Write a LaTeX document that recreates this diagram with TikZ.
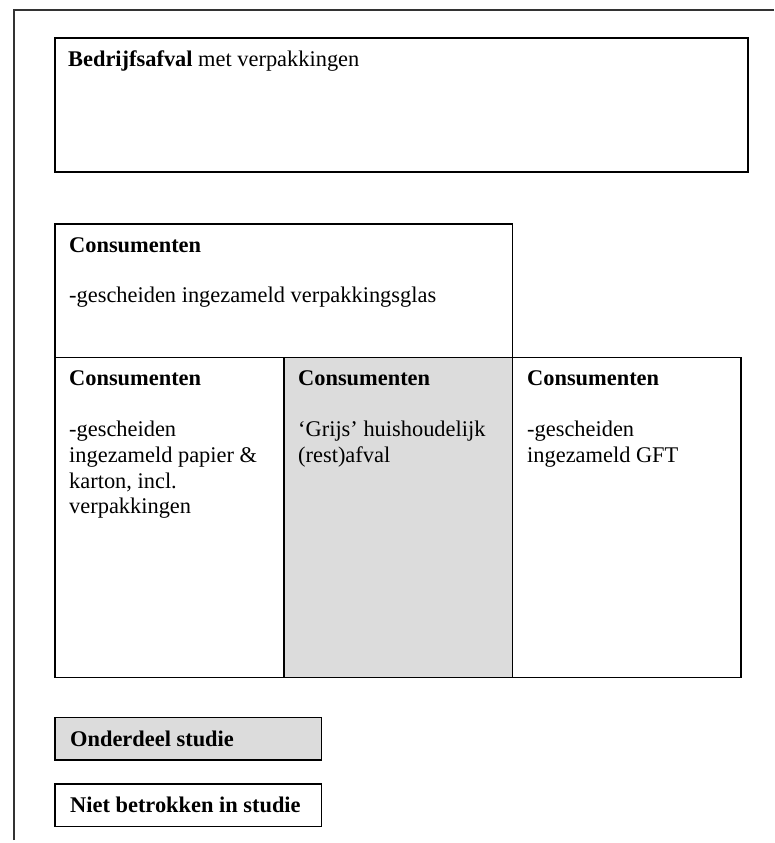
\documentclass[tikz,border=0pt]{standalone}
\usepackage{fontspec}
\setmainfont{Liberation Serif}
\definecolor{studygray}{HTML}{DCDCDC}
\newcommand\textlines[1]{\begin{tabular}[t]{@{}l@{}}#1\end{tabular}}
\begin{document}
\begin{tikzpicture}[x=1pt,y=-1pt,
  panel/.style={rectangle, draw=black, line width=1.6pt, inner sep=0pt, anchor=north west},
  shaded/.style={panel, fill=studygray},
  txt/.style={anchor=base west, inner sep=0pt, align=left,
    font=\fontsize{22.4}{25.7}\selectfont},
  frame/.style={draw=black!80, line width=1.3pt}]
\useasboundingbox (0,0) rectangle (774,843);

% page frame (top and left rules)
\draw[frame] (14,840) -- (14,10) -- (774,10);

% business waste
\node[panel, minimum width=693, minimum height=134] (bedrijf) at (54,37) {};
\node[txt] (bedrijf-t) at (68,66.7) {\textbf{Bedrijfsafval} met verpakkingen};

% separately collected glass
\node[panel, minimum width=457.7, minimum height=133.7] (glas) at (54,223) {};
\node[txt] (glas-h) at (69,252.7) {\textbf{Consumenten}};
\node[txt] (glas-t) at (69,302.7) {-gescheiden ingezameld verpakkingsglas};

% consumer streams
\node[panel, minimum width=229, minimum height=320] (papier) at (54,356.7) {};
\node[shaded, minimum width=228.7, minimum height=320] (rest) at (283,356.7) {};
\node[panel, minimum width=228.3, minimum height=320] (gft) at (511.7,356.7) {};

\node[txt] (papier-h) at (69,385.7) {\textbf{Consumenten}};
\node[txt] (papier-t) at (69,436.7) {\textlines{-gescheiden\\ingezameld papier \&\\karton, incl.\\verpakkingen}};
\node[txt] (rest-h) at (298,385.7) {\textbf{Consumenten}};
\node[txt] (rest-t) at (298,436.7) {\textlines{‘Grijs’ huishoudelijk\\(rest)afval}};
\node[txt] (gft-h) at (527,385.7) {\textbf{Consumenten}};
\node[txt] (gft-t) at (527,436.7) {\textlines{-gescheiden\\ingezameld GFT}};

% legend
\node[shaded, minimum width=266.7, minimum height=42.3] (leg-in) at (54,716.7) {};
\node[txt] (leg-in-t) at (70,746.7) {\textbf{Onderdeel studie}};
\node[panel, minimum width=266.7, minimum height=42.4] (leg-out) at (54,783.3) {};
\node[txt] (leg-out-t) at (70,812.7) {\textbf{Niet betrokken in studie}};
\end{tikzpicture}
\end{document}
